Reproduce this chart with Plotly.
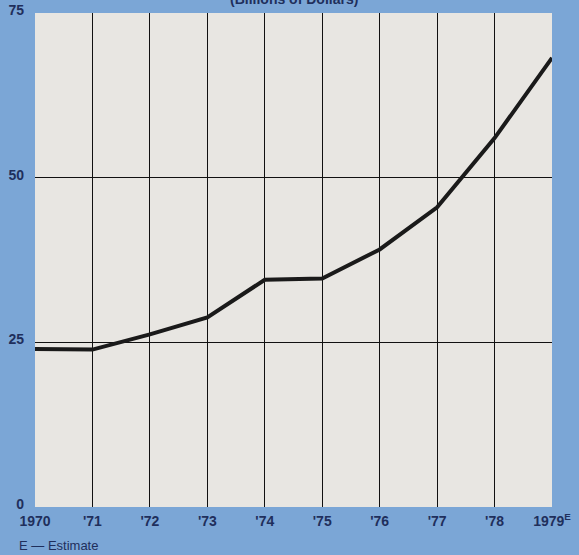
import plotly.graph_objects as go

years = [1970, 1971, 1972, 1973, 1974, 1975, 1976, 1977, 1978, 1979]
values = [24.0, 23.9, 26.2, 28.8, 34.5, 34.7, 39.1, 45.5, 56.0, 68.2]
x_tick_labels = ["1970", "'71", "'72", "'73", "'74", "'75", "'76", "'77", "'78", "1979<sup>E</sup>"]
y_ticks = [0, 25, 50, 75]

NAVY = "#1f2f5c"
BG = "#7ba6d6"
FONT = "Liberation Sans, Arial, sans-serif"

fig = go.Figure()
fig.add_trace(go.Scatter(
    x=years, y=values, mode="lines",
    line=dict(color="#1a1a1a", width=4),
    hoverinfo="skip", showlegend=False,
))

fig.update_layout(
    width=579, height=555,
    margin=dict(l=35, r=27, t=13, b=48, autoexpand=False),
    paper_bgcolor=BG,
    plot_bgcolor="#e8e6e2",
    font=dict(family=FONT, color=NAVY, size=14),
    xaxis=dict(
        range=[1970, 1979], tickmode="array", tickvals=years, ticktext=x_tick_labels,
        showgrid=True, gridcolor="#111111", gridwidth=1.3, zeroline=False,
        showline=False, ticks="", ticklabelstandoff=4,
        tickfont=dict(family=FONT, color=NAVY, size=14, weight="bold"),
    ),
    yaxis=dict(
        range=[0, 75], tickmode="array", tickvals=y_ticks,
        showgrid=True, gridcolor="#111111", gridwidth=1.2, zeroline=False,
        showline=False, ticks="", ticklabelshift=-3, ticklabelstandoff=10,
        tickfont=dict(family=FONT, color=NAVY, size=14, weight="bold"),
    ),
    annotations=[
        dict(text="<b>(Billions of Dollars)</b>", xref="paper", yref="paper",
             x=0.5, y=1, yanchor="middle", yshift=14, showarrow=False,
             font=dict(family=FONT, color=NAVY, size=14)),
        dict(text="E — Estimate", xref="paper", yref="paper",
             x=0, xanchor="left", xshift=-18, y=0, yanchor="middle", yshift=-38,
             showarrow=False, font=dict(family=FONT, color=NAVY, size=13)),
    ],
)

fig.write_html(
    "out.html",
    config={"displayModeBar": False},
    post_script=f"document.body.style.margin='0';document.body.style.background='{BG}';",
)
